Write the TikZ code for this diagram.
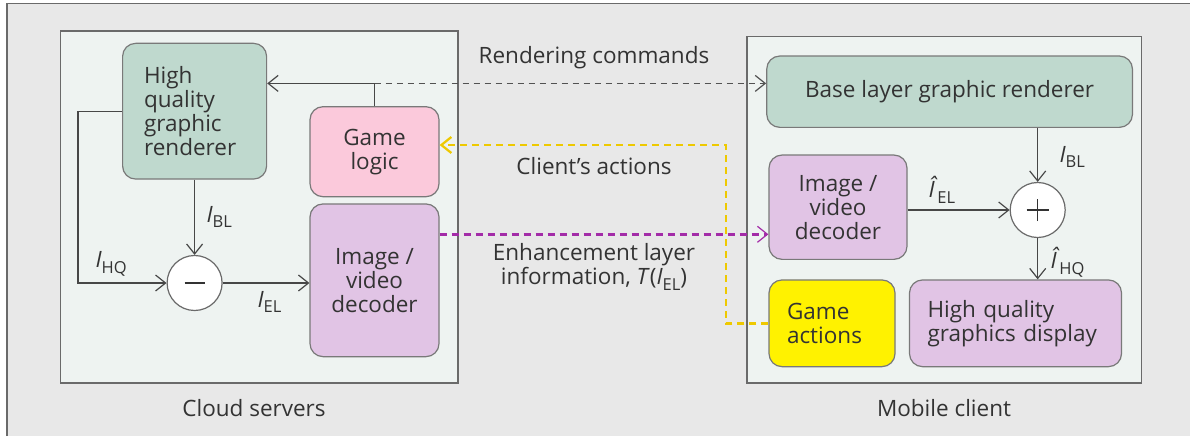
\documentclass[tikz,border=0pt]{standalone}
\usepackage{fontspec}
\setmainfont{Open Sans}
\usetikzlibrary{arrows.meta,calc}

\definecolor{bg}{HTML}{E8E8E8}
\definecolor{panel}{HTML}{EEF3F1}
\definecolor{frame}{HTML}{6A6A6A}
\definecolor{ink}{HTML}{333333}
\definecolor{rgreen}{HTML}{BFD9CE}
\definecolor{rpink}{HTML}{FBC9DB}
\definecolor{rpurple}{HTML}{E1C4E5}
\definecolor{ryellow}{HTML}{FFF200}
\definecolor{dyellow}{HTML}{EEC900}
\definecolor{dpurple}{HTML}{A32CA8}

% italic symbol with a lowered upright index
\newcommand\symsub[2]{{\itshape #1}\raisebox{-0.26em}{\fontsize{16.5}{16.5}\selectfont #2}}

\begin{document}
\begin{tikzpicture}[x=1pt,y=-1pt,
  font=\fontsize{22.5}{24}\selectfont,
  every node/.style={text=ink},
  chev/.tip={Straight Barb[length=10pt,width=16pt,line width=1.2pt]},
  link/.style={draw=ink!90, line width=1.2pt, -{chev}},
  panelbox/.style={draw=frame, line width=1.5pt, fill=panel},
  blk/.style={draw=frame!90, line width=1.2pt, rounded corners=13pt,
    inner sep=0pt, align=center},
  sumnode/.style={circle, draw=frame, line width=1.2pt, fill=white,
    minimum size=55pt, inner sep=0pt},
  dashgray/.style={draw=ink!85, line width=1.2pt, dash pattern=on 6pt off 5pt,
    -{chev}},
  dashyellow/.style={draw=dyellow, line width=2.4pt, dash pattern=on 7pt off 5pt,
    -{Straight Barb[length=10pt,width=16pt,line width=2.2pt]}},
  dashpurple/.style={draw=dpurple, line width=2.4pt, dash pattern=on 7pt off 5pt,
    -{Straight Barb[length=10pt,width=16pt,line width=1.2pt]}},
]
\useasboundingbox (0,0) rectangle (1190,436);

% backdrop and outer frame
\fill[white] (0,0) rectangle (1190,436);
\fill[bg] (7,3.5) rectangle (1190,436);
\draw[frame, line width=1.5pt] (7,436) -- (7,3.5) -- (1190,3.5);

% the two machines
\draw[panelbox] (60.5,31) rectangle (458,383);
\draw[panelbox] (747,36.7) rectangle (1141.5,383);
\node (cloudlbl) at (254,408) {Cloud servers};
\node (mobilelbl) at (944,408) {Mobile client};

% cloud side
\node[blk, fill=rgreen, align=left, text width=101pt, inner xsep=21.5pt,
      minimum height=135.7pt] (hq) at (194.6,111.2)
      {High\\quality\\graphic\\renderer};
\node[blk, fill=rpink, minimum width=129pt, minimum height=90pt] (gl)
      at (374.5,151.7) {Game\\logic};
\node[blk, fill=rpurple, minimum width=129pt, minimum height=152.7pt] (sdec)
      at (374.5,280.3) {Image /\\video\\decoder};
\node[sumnode] (minus) at (194.6,283) {};
\draw[ink, line width=1.3pt] ([xshift=-10pt]minus.center) -- ([xshift=10pt]minus.center);

% client side
\node[blk, fill=rgreen, minimum width=365.7pt, minimum height=71.3pt] (base)
      at (949.6,91.7) {Base layer graphic renderer};
\node[blk, fill=rpurple, minimum width=138pt, minimum height=104.3pt] (cdec)
      at (838,207.2) {Image /\\video\\decoder};
\node[sumnode] (plus) at (1037.7,210) {};
\draw[ink, line width=1.3pt] ([xshift=-11pt]plus.center) -- ([xshift=11pt]plus.center)
  ([yshift=-11pt]plus.center) -- ([yshift=11pt]plus.center);
\node[blk, fill=ryellow, align=left, text width=90pt, inner xsep=18pt,
      minimum height=86.7pt] (ga) at (832,323.3) {Game\\actions};
\node[blk, fill=rpurple, align=left, text width=176pt, inner xsep=18pt,
      minimum height=86.7pt] (disp) at (1015.5,323.3)
      {High quality\\graphics display};

% cloud-side signal flow
\coordinate (split) at ($(gl.north)+(0,-22.7)$);
\draw[ink!90, line width=1.2pt] (gl.north) -- (split);
\draw[link] (split) -- (split -| hq.east);
\draw[link] (hq.west) -- ++(-44,0) |- (minus.west);
\draw[link] (hq.south) -- (minus.north);
\draw[link] (minus.east) -- (minus.east -| sdec.west);
\node[anchor=west] (ibl) at (203,217) {\symsub{I}{BL}};
\node[anchor=west] (ihq) at (92,264) {\symsub{I}{HQ}};
\node[anchor=west] (iel) at (254,302) {\symsub{I}{EL}};

% client-side signal flow
\draw[link] (plus.north |- base.south) -- (plus.north);
\draw[link] (plus.west -| cdec.east) -- (plus.west);
\draw[link] (plus.south) -- (plus.south |- disp.north);
\node[anchor=west] (cibl) at (1056,157) {\symsub{I}{BL}};
\node[anchor=west] (ciel) at (925,190) {\symsub{Î}{\,EL}};
\node[anchor=west] (cihq) at (1047,262) {\symsub{Î}{\,HQ}};

% links between cloud and client
\draw[dashgray] (split) -- (split -| base.west);
\draw[dashyellow] (ga.west) -- ++(-42.3,0) |- ([yshift=6.7pt]gl.east);
\draw[dashpurple] ([yshift=46pt]sdec.east) -- ([yshift=46pt]sdec.east -| cdec.west);
\node (rc) at (594,58) {Rendering commands};
\node (ca) at (594,166) {Client’s actions};
\node[align=center] (el) at (594,267)
  {Enhancement layer\\information, \textit{T}(\symsub{I}{EL})};
\end{tikzpicture}
\end{document}
